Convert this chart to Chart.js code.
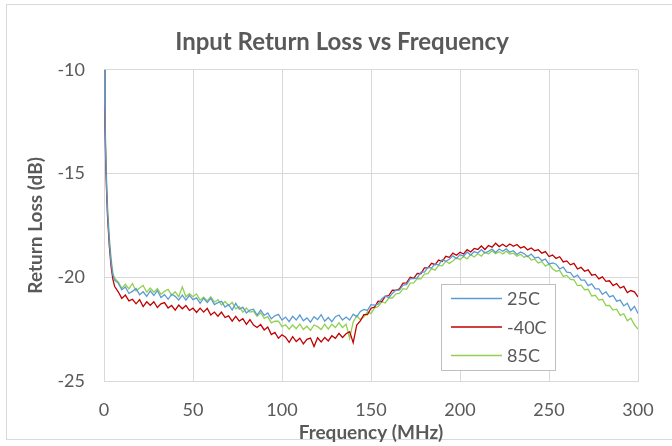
<!DOCTYPE html>
<html>
<head>
<meta charset="utf-8">
<script src="https://cdn.jsdelivr.net/npm/chart.js@4"></script>
<style>
  html, body { margin: 0; padding: 0; background: #fff; }
  #wrap { width: 672px; height: 446px; }
</style>
</head>
<body>
<div id="wrap"><canvas id="rlChart" width="672" height="446"></canvas></div>
<script>
// frequency points (MHz)
const freqs = [0, 0.5, 1, 1.5, 2, 3, 4, 5,
	6, 8, 10, 12, 14, 16, 18, 20, 22, 24,
	26, 28, 30, 32, 34, 36, 38, 40, 42, 44,
	46, 48, 50, 52, 54, 56, 58, 60, 62, 64,
	66, 68, 70, 72, 74, 76, 78, 80, 82, 84,
	86, 88, 90, 92, 94, 96, 98, 100, 102, 104,
	106, 108, 110, 112, 114, 116, 118, 120, 122, 124,
	126, 128, 130, 132, 134, 136, 138, 140, 142, 144,
	146, 148, 150, 152, 154, 156, 158, 160, 162, 164,
	166, 168, 170, 172, 174, 176, 178, 180, 182, 184,
	186, 188, 190, 192, 194, 196, 198, 200, 202, 204,
	206, 208, 210, 212, 214, 216, 218, 220, 222, 224,
	226, 228, 230, 232, 234, 236, 238, 240, 242, 244,
	246, 248, 250, 252, 254, 256, 258, 260, 262, 264,
	266, 268, 270, 272, 274, 276, 278, 280, 282, 284,
	286, 288, 290, 292, 294, 296, 298, 300];

// return loss, dB
const rl25 = [-10, -12.2, -14.3, -15.8, -16.9, -18.3, -19.3, -19.9,
	-20.15, -20.28, -20.6, -20.47, -20.78, -20.68, -20.54, -20.84, -20.7, -20.92,
	-20.66, -20.88, -20.64, -20.98, -20.84, -21.06, -20.82, -20.92, -21.1, -20.86,
	-21.1, -20.87, -21.08, -20.99, -21.26, -21.01, -21.22, -21.01, -21.32, -21.22,
	-21.16, -21.44, -21.32, -21.58, -21.26, -21.54, -21.44, -21.72, -21.58, -21.54,
	-21.82, -21.58, -21.84, -21.72, -22.0, -21.86, -21.79, -22.06, -21.92, -22.14,
	-21.88, -22.06, -21.82, -22.1, -21.96, -22.16, -21.9, -22.04, -21.8, -22.12,
	-21.94, -22.14, -21.9, -21.82, -22.06, -21.92, -22.06, -21.78, -21.91, -21.65,
	-21.55, -21.6, -21.32, -21.34, -21.3, -21.04, -20.9, -20.98, -20.78, -20.61,
	-20.62, -20.38, -20.36, -20.08, -20.07, -20.03, -19.75, -19.75, -19.52, -19.56,
	-19.35, -19.41, -19.15, -19.23, -19.13, -18.97, -19.1, -18.91, -18.98, -18.78,
	-18.93, -18.76, -18.83, -18.67, -18.83, -18.75, -18.64, -18.81, -18.64, -18.75,
	-18.63, -18.79, -18.72, -18.9, -18.78, -18.86, -19.01, -18.88, -19.07, -19.03,
	-19.2, -19.12, -19.37, -19.31, -19.37, -19.6, -19.51, -19.75, -19.77, -20.0,
	-19.9, -20.14, -20.14, -20.4, -20.32, -20.56, -20.56, -20.82, -20.7, -20.95,
	-20.88, -21.15, -21.1, -21.38, -21.25, -21.6, -21.4, -21.75];

const rlMinus40 = [-10, -12.4, -14.6, -16.0, -17.1, -18.5, -19.5, -20.1,
	-20.45, -20.7, -21.02, -20.86, -21.14, -21.06, -21.28, -21.08, -21.41, -21.18,
	-21.35, -21.18, -21.46, -21.28, -21.22, -21.48, -21.36, -21.58, -21.34, -21.52,
	-21.36, -21.6, -21.49, -21.7, -21.49, -21.68, -21.5, -21.82, -21.68, -21.88,
	-21.68, -21.94, -21.86, -22.11, -21.88, -22.11, -22.0, -22.27, -22.04, -22.3,
	-22.42, -22.28, -22.54, -22.4, -22.76, -22.66, -22.94, -22.77, -22.89, -23.14,
	-22.86, -23.1, -22.94, -23.21, -22.99, -22.93, -23.34, -22.92, -23.12, -22.9,
	-23.07, -22.82, -22.94, -22.7, -22.9, -22.72, -22.62, -23.15, -22.3, -22.1,
	-21.8, -21.8, -21.49, -21.44, -21.15, -21.18, -20.92, -20.88, -20.62, -20.63,
	-20.56, -20.28, -20.27, -20.0, -20.05, -19.81, -19.83, -19.55, -19.55, -19.33,
	-19.39, -19.17, -19.24, -18.99, -19.04, -18.84, -18.94, -18.79, -18.88, -18.67,
	-18.78, -18.61, -18.66, -18.49, -18.66, -18.47, -18.55, -18.36, -18.52, -18.41,
	-18.53, -18.4, -18.51, -18.42, -18.59, -18.52, -18.68, -18.59, -18.72, -18.67,
	-18.84, -18.76, -19.0, -18.93, -19.09, -19.01, -19.26, -19.21, -19.4, -19.33,
	-19.6, -19.52, -19.71, -19.64, -19.9, -19.86, -20.08, -19.98, -20.2, -20.17,
	-20.4, -20.3, -20.52, -20.44, -20.74, -20.64, -20.7, -20.95];

const rl85 = [-10, -11.8, -13.9, -15.4, -16.6, -18.1, -19.1, -19.8,
	-20.05, -20.22, -20.53, -20.34, -20.56, -20.3, -20.66, -20.52, -20.4, -20.72,
	-20.52, -20.72, -20.54, -20.82, -20.68, -20.58, -20.86, -20.7, -20.94, -20.46,
	-20.94, -20.79, -20.94, -20.8, -21.1, -20.96, -21.14, -20.94, -21.2, -21.08,
	-21.34, -21.17, -21.36, -21.21, -21.52, -21.42, -21.68, -21.48, -21.68, -21.64,
	-21.88, -21.71, -21.98, -21.9, -22.2, -22.12, -22.12, -22.38, -22.29, -22.5,
	-22.3, -22.48, -22.26, -22.52, -22.36, -22.56, -22.3, -22.38, -22.52, -22.26,
	-22.5, -22.26, -22.42, -22.2, -22.42, -22.26, -22.95, -22.15, -21.85, -22.05,
	-21.9, -21.67, -21.75, -21.48, -21.42, -21.18, -21.24, -21.0, -21.0, -20.8,
	-20.78, -20.55, -20.58, -20.28, -20.27, -20.06, -20.08, -19.85, -19.83, -19.58,
	-19.66, -19.43, -19.45, -19.23, -19.33, -19.22, -19.06, -19.15, -19.0, -19.11,
	-18.91, -19.02, -18.87, -18.98, -18.79, -18.88, -18.73, -18.87, -18.77, -18.88,
	-18.74, -18.88, -18.84, -18.99, -18.89, -19.03, -18.97, -19.17, -19.13, -19.31,
	-19.25, -19.46, -19.36, -19.59, -19.71, -19.67, -19.96, -19.91, -20.1, -20.12,
	-20.4, -20.38, -20.6, -20.58, -20.9, -20.87, -21.1, -21.06, -21.36, -21.36,
	-21.58, -21.54, -21.84, -21.76, -22.1, -21.97, -22.29, -22.5];

const seriesNames = ["25C", "-40C", "85C"];
const seriesColors = ["#5B9BD5", "#C00000", "#92D050"];
const xTicks = [0, 50, 100, 150, 200, 250, 300];
const yTicks = [-25, -20, -15, -10];

const textColor = "#595959";
const gridColor = "#d9d9d9";
const fontFamily = "Lato, 'Open Sans', sans-serif";

function toPoints(values) {
	return freqs.map((f, i) => ({ x: f, y: values[i] }));
}

// white background + outer frame
const framePlugin = {
	id: "frame",
	beforeDraw(chart) {
		const c = chart.ctx;
		c.save();
		c.fillStyle = "#fff";
		c.fillRect(0, 0, chart.width, chart.height);
		c.strokeStyle = "#d9d9d9";
		c.lineWidth = 1;
		c.strokeRect(6.5, 4.5, 680, 435);
		c.restore();
	},
};

// legend box drawn inside the plot, like the Excel one
const boxLegend = {
	id: "boxLegend",
	afterDraw(chart) {
		const c = chart.ctx;
		const x = 441, y = 284, w = 114, h = 86;
		c.save();
		c.fillStyle = "#fff";
		c.fillRect(x, y, w, h);
		c.strokeStyle = "#bfbfbf";
		c.lineWidth = 1;
		c.strokeRect(x + 0.5, y + 0.5, w, h);
		c.font = "18px " + fontFamily;
		c.textBaseline = "middle";
		chart.data.datasets.forEach((ds, i) => {
			const ry = y + 14.5 + i * 28.5;
			c.strokeStyle = ds.borderColor;
			c.lineWidth = 1.5;
			c.beginPath();
			c.moveTo(x + 10, ry);
			c.lineTo(x + 61, ry);
			c.stroke();
			c.fillStyle = textColor;
			c.fillText(ds.label, x + 66, ry + 1);
		});
		c.restore();
	},
};

const datasets = [rl25, rlMinus40, rl85].map((vals, i) => ({
	label: seriesNames[i],
	data: toPoints(vals),
	borderColor: seriesColors[i],
	backgroundColor: seriesColors[i],
	borderWidth: 1.3,
	pointRadius: 0,
	tension: 0,
}));

new Chart(document.getElementById("rlChart"), {
	type: "line",
	data: { datasets },
	plugins: [framePlugin, boxLegend],
	options: {
		responsive: false,
		animation: false,
		layout: { padding: { left: 12, right: 0, top: 0, bottom: 2 } },
		plugins: {
			legend: { display: false },
			tooltip: { enabled: false },
			title: {
				display: true,
				text: "Input Return Loss vs Frequency",
				color: textColor,
				font: { family: fontFamily, size: 24, weight: "bold" },
				padding: { top: 28, bottom: 13 },
			},
		},
		scales: {
			x: {
				type: "linear",
				min: 0,
				max: 300,
				afterBuildTicks: (s) => { s.ticks = xTicks.map((v) => ({ value: v })); },
				afterFit: (s) => { s.height = 63; },
				grid: { color: gridColor, drawTicks: false },
				border: { color: gridColor },
				ticks: { color: textColor, padding: 18, maxRotation: 0, font: { family: fontFamily, size: 18 } },
				title: {
					display: true,
					text: "Frequency (MHz)",
					color: textColor,
					padding: { top: 0, bottom: 0 },
					font: { family: fontFamily, size: 19, weight: "bold" },
				},
			},
			y: {
				min: -25,
				max: -10,
				afterBuildTicks: (s) => { s.ticks = yTicks.map((v) => ({ value: v })); },
				afterFit: (s) => { s.width = 92; },
				grid: { color: gridColor, drawTicks: false },
				border: { color: gridColor },
				ticks: { color: textColor, padding: 19, font: { family: fontFamily, size: 18 } },
				title: {
					display: true,
					text: "Return Loss (dB)",
					color: textColor,
					padding: { top: 12, bottom: 0 },
					font: { family: fontFamily, size: 19, weight: "bold" },
				},
			},
			// empty right-hand strip so the plot ends at 300 MHz where the reference does
			yRight: {
				position: "right",
				min: -25,
				max: -10,
				afterFit: (s) => { s.width = 34; },
				grid: { display: false, drawOnChartArea: false },
				border: { display: false },
				ticks: { display: false },
			},
		},
	},
});
</script>
</body>
</html>
